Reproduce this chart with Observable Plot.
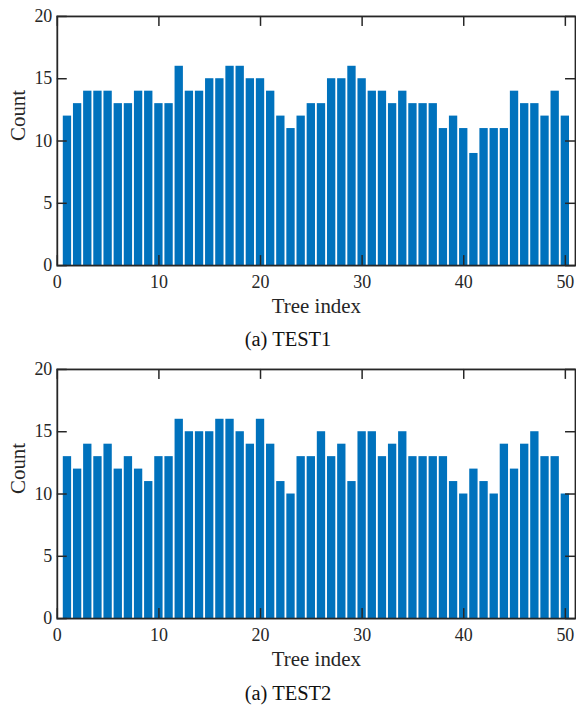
<!DOCTYPE html>
<html><head><meta charset="utf-8">
<script src="https://cdn.jsdelivr.net/npm/d3@7"></script>
<script src="https://cdn.jsdelivr.net/npm/@observablehq/plot@0.6"></script>
<style>
html,body{margin:0;padding:0;background:#fff;overflow:hidden;width:576px;height:711px}
.caption{font-family:"Liberation Serif","DejaVu Serif",serif;font-size:20.5px;color:#111;text-align:center;width:576px;}
svg{display:block}
</style></head><body><div id="chart"></div>
<script>
const treeIndex = [1,2,3,4,5,6,7,8,9,10,11,12,13,14,15,16,17,18,19,20,21,22,23,24,25,26,27,28,29,30,31,32,33,34,35,36,37,38,39,40,41,42,43,44,45,46,47,48,49,50];
const test1Counts = [12,13,14,14,14,13,13,14,14,13,13,16,14,14,15,15,16,16,15,15,14,12,11,12,13,13,15,15,16,15,14,14,13,14,13,13,13,11,12,11,9,11,11,11,14,13,13,12,14,12];
const test2Counts = [13,12,14,13,14,12,13,12,11,13,13,16,15,15,15,16,16,15,14,16,14,11,10,13,13,15,13,14,11,15,15,13,14,15,13,13,13,13,11,10,12,11,10,14,12,14,15,13,13,10];
const xTicks = [0,10,20,30,40,50];
const yTicks = [0,5,10,15,20];
const xLabel = "Tree index";
const yLabel = "Count";
const panelCaptions = ["(a) TEST1", "(a) TEST2"];

const ink = "#262626";
function panel(counts, marginTop, height, marginBottom) {
  const data = treeIndex.map((t, i) => ({tree: t, count: counts[i]}));
  return Plot.plot({
    width: 578, height, marginTop, marginBottom, marginLeft: 57, marginRight: 1,
    style: {fontFamily: "'Liberation Serif', 'DejaVu Serif', serif", color: ink, background: "#fff", overflow: "visible"},
    x: {domain: [0, 51]},
    y: {domain: [0, 20]},
    marks: [
      Plot.rect(data, {x1: d => d.tree - 0.41, x2: d => d.tree + 0.41, y1: 0, y2: "count", fill: "#0072BD"}),
      Plot.axisX(xTicks, {tickSize: 0, tickPadding: 10, fontSize: 18, label: null}),
      Plot.axisY(yTicks, {tickSize: 0, tickPadding: 5, fontSize: 18, label: null}),
      Plot.ruleX(xTicks, {x: d => d, insetTop: 240, stroke: ink, strokeWidth: 1.5}),
      Plot.ruleX(xTicks, {x: d => d, insetBottom: 240, stroke: ink, strokeWidth: 1.5}),
      Plot.ruleY(yTicks, {y: d => d, insetRight: 510, stroke: ink, strokeWidth: 1.5}),
      Plot.ruleY(yTicks, {y: d => d, insetLeft: 510, stroke: ink, strokeWidth: 1.5}),
      Plot.frame({stroke: ink, strokeWidth: 1.8}),
      Plot.text([xLabel], {text: d => d, frameAnchor: "bottom", lineAnchor: "middle", dy: 41, fontSize: 21}),
      Plot.text([yLabel], {text: d => d, frameAnchor: "left", lineAnchor: "middle", dx: -39, rotate: -90, fontSize: 21})
    ]
  });
}
const root = document.getElementById("chart");
root.append(panel(test1Counts, 16, 325, 59));
const c1 = document.createElement("div");
c1.className = "caption"; c1.style.height = "30px"; c1.style.lineHeight = "30px";
c1.textContent = panelCaptions[0];
root.append(c1);
root.append(panel(test2Counts, 15, 325, 60));
const c2 = document.createElement("div");
c2.className = "caption"; c2.style.height = "31px"; c2.style.lineHeight = "31px";
c2.textContent = panelCaptions[1];
root.append(c2);
</script></body></html>
